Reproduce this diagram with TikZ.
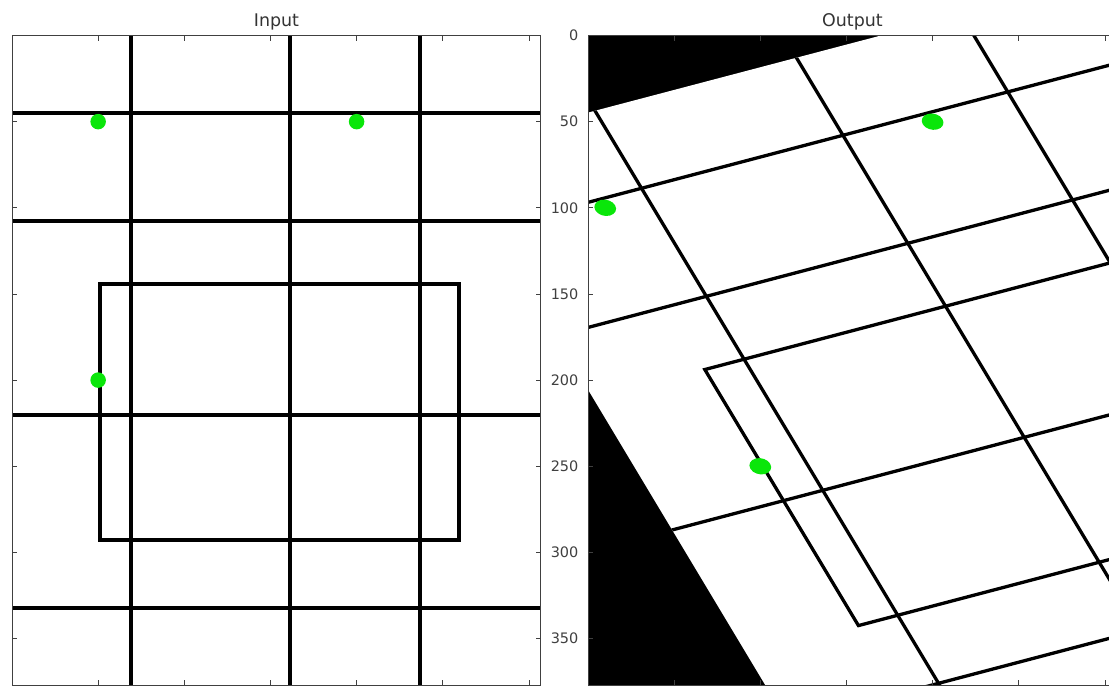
\documentclass[tikz,border=0pt]{standalone}
\usepackage{fontspec}
\setmainfont{DejaVu Sans}
\definecolor{dotgreen}{RGB}{10,230,10}
\newcommand{\imgW}{307}
\newcommand{\imgH}{377}
\newcommand{\imgcontent}{%
  \fill[white] (0,0) rectangle (\imgW,\imgH);
  \foreach \vv in {45,107.7,220.3,332.3} \draw[gridline] (-5,\vv) -- (\imgW+5,\vv);
  \foreach \uu in {69,161.3,236.8} \draw[gridline] (\uu,-5) -- (\uu,\imgH+5);
  \draw[gridline] (51,144.2) rectangle (259.4,292.8);
  \fill[gdot] (50,50) circle (4.5);
  \fill[gdot] (200,50) circle (4.5);
  \fill[gdot] (50,200) circle (4.5);
}
\begin{document}
\begin{tikzpicture}[x=1bp,y=-1bp,
  gridline/.style={line width=3.3bp, black},
  spine/.style={line width=1bp, black!75},
  tickmark/.style={line width=0.8bp, black!75},
  gdot/.style={fill=dotgreen},
  ticklabel/.style={anchor=east, inner sep=0pt, font=\fontsize{14.5}{16}\selectfont, text=black!75},
  paneltitle/.style={anchor=base, inner sep=0pt, font=\fontsize{17.5}{20}\selectfont, text=black!80}]
\useasboundingbox (0,0) rectangle (1109,686);
\fill[white] (0,0) rectangle (1109,686);

% ---------- Input panel ----------
\begin{scope}[shift={(12,35.5)}, scale=1.723]
  \begin{scope}
    \clip (0,0) rectangle (\imgW,\imgH);
    \imgcontent
  \end{scope}
  \draw[spine] (0,0) rectangle (\imgW,\imgH);
  \foreach \uu in {50,100,...,300} {
    \draw[tickmark] (\uu,0) -- ++(0,3);
    \draw[tickmark] (\uu,\imgH) -- ++(0,-3);
  }
  \foreach \vv in {50,100,...,350} {
    \draw[tickmark] (0,\vv) -- ++(3,0);
    \draw[tickmark] (\imgW,\vv) -- ++(-3,0);
  }
  \node[paneltitle] (tin) at (153.5,-5) {Input};
\end{scope}

% ---------- Output panel ----------
\begin{scope}[shift={(588,35.5)}, scale=1.723]
  \begin{scope}
    \clip (0,0) rectangle (\imgW,\imgH);
    \fill[black] (0,0) rectangle (\imgW,\imgH);
    \begin{scope}[shift={(-83.33,66.67)}, cm={1.2667,0.3333,-0.6,1,(0,0)}]
      \clip (0,0) rectangle (\imgW,\imgH);
      \imgcontent
    \end{scope}
  \end{scope}
  \draw[spine] (0,0) rectangle (\imgW,\imgH);
  \foreach \uu in {50,100,...,300} {
    \draw[tickmark] (\uu,0) -- ++(0,3);
    \draw[tickmark] (\uu,\imgH) -- ++(0,-3);
  }
  \foreach \vv [count=\i] in {0,50,...,350} {
    \draw[tickmark] (0,\vv) -- ++(3,0);
    \node[ticklabel] (yl\i) at (-5.5,\vv) {\vv};
  }
  \node[paneltitle] (tout) at (153.5,-5) {Output};
\end{scope}
\end{tikzpicture}
\end{document}
